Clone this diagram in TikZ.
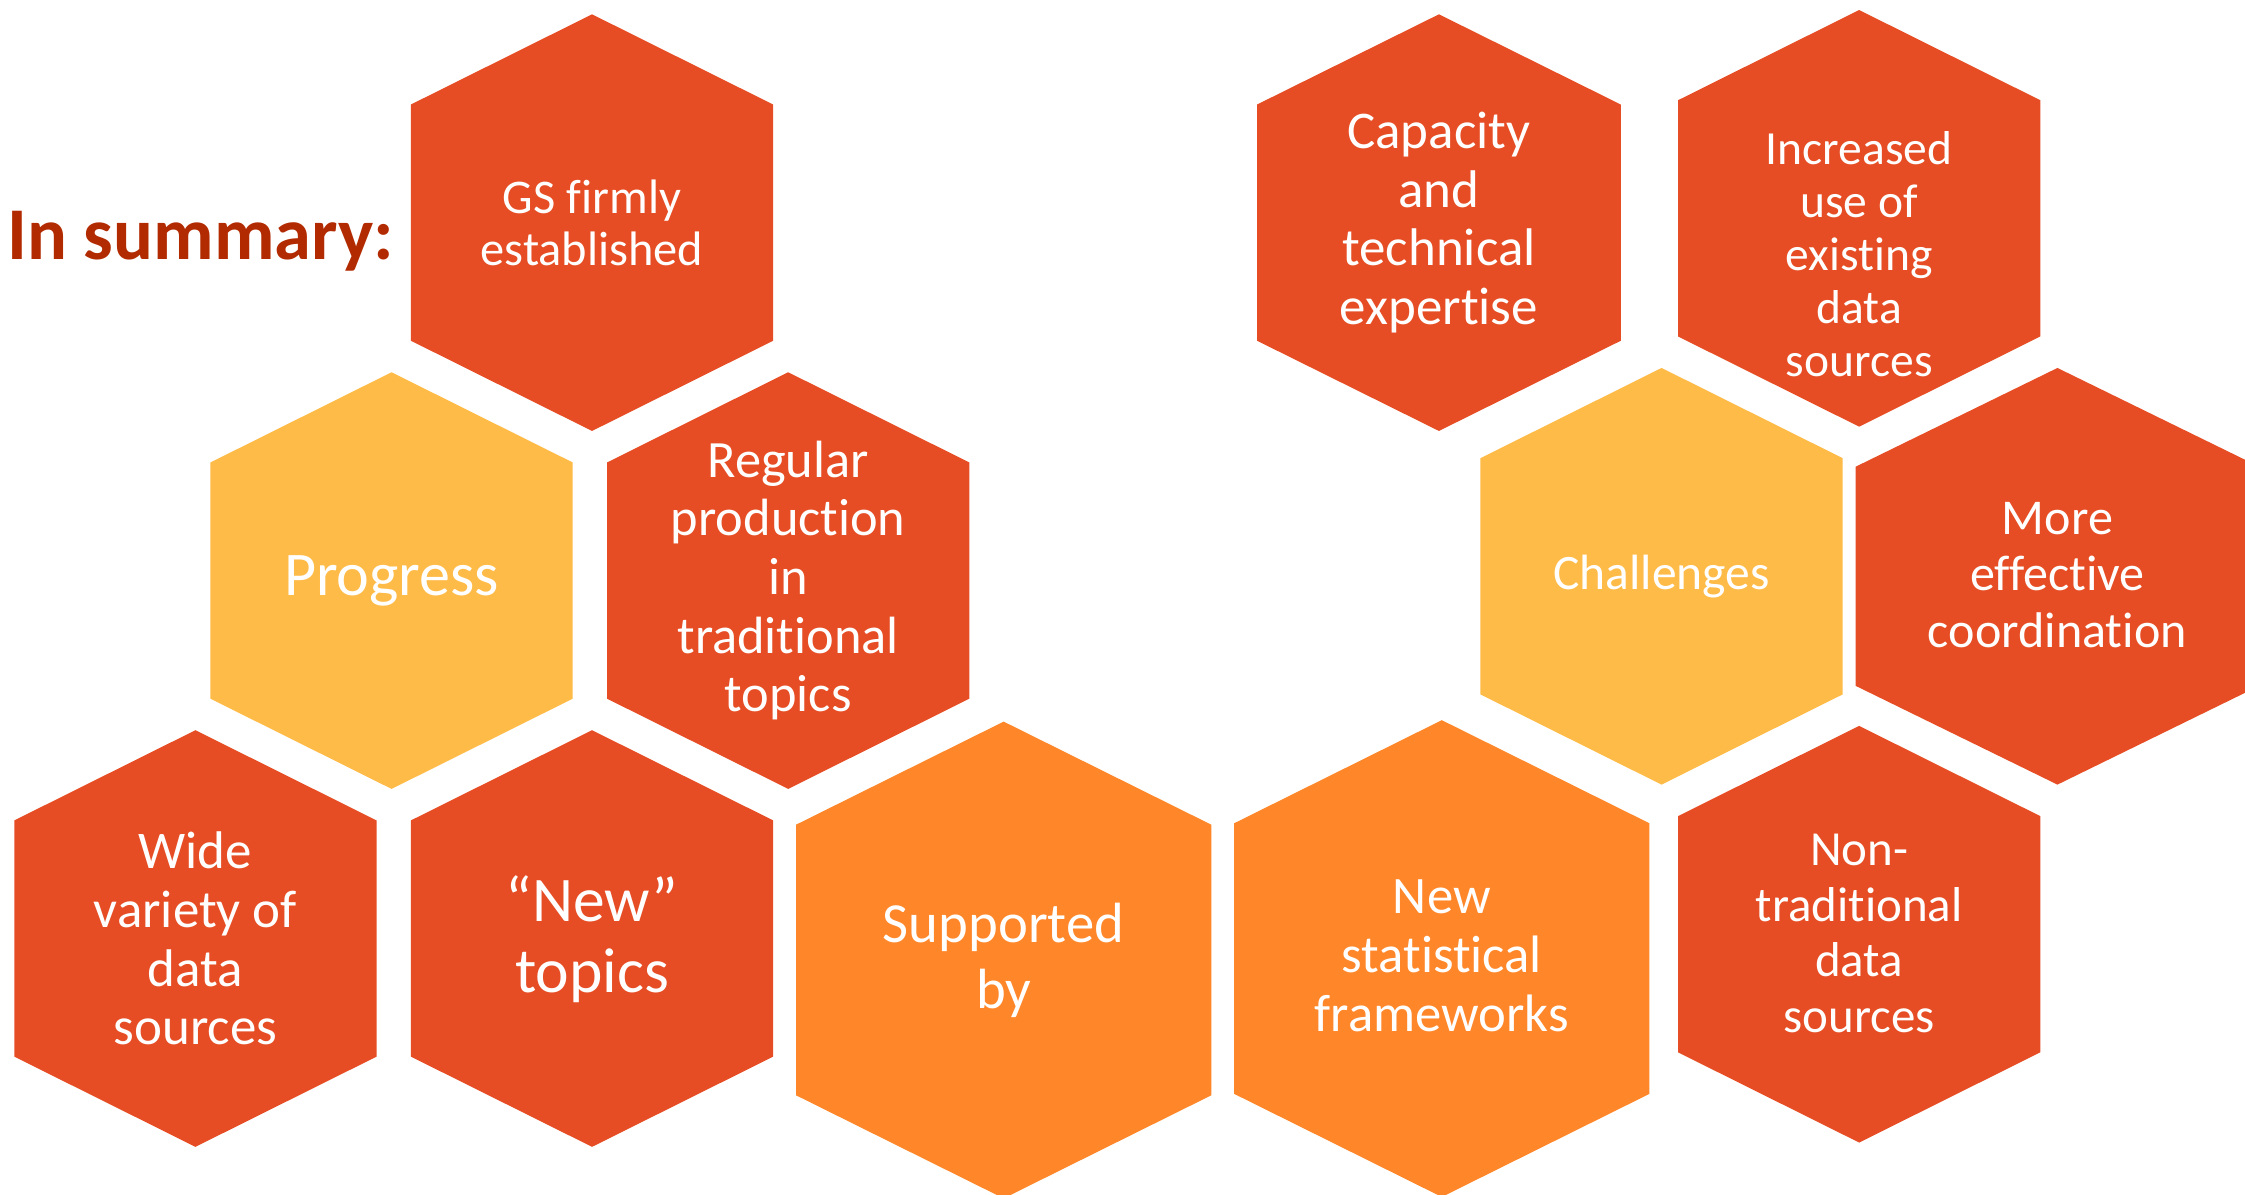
\documentclass[tikz,border=0pt]{standalone}
\usepackage{fontspec}
\setmainfont{Carlito}[Ligatures={NoCommon}]
\usepackage{tikz}
\definecolor{hexred}{HTML}{E64D24}
\definecolor{hexyellow}{HTML}{FFBB47}
\definecolor{hexorange}{HTML}{FF8629}
\definecolor{titlered}{HTML}{B22A00}
% colour, centre x, centre y, half width, half height, corner drop
\newcommand{\hexa}[6]{\fill[#1] (#2,#3-#5) -- (#2+#4,#3-#5+#6) -- (#2+#4,#3+#5-#6) -- (#2,#3+#5) -- (#2-#4,#3+#5-#6) -- (#2-#4,#3-#5+#6) -- cycle;}
\newcommand{\fsz}[2]{\fontsize{#1}{#2}\selectfont}

\begin{document}
\begin{tikzpicture}[x=0.5pt, y=-0.5pt, txt/.style={text=white, align=center, inner sep=0pt}]
\useasboundingbox (0,0) rectangle (1568,834);
\clip (0,0) rectangle (1568,834);

% progress side
\hexa{hexred}{413.5}{155.5}{126.5}{145.5}{63}
\hexa{hexyellow}{273.5}{405.5}{126.5}{145.5}{63}
\hexa{hexred}{550.5}{405.5}{126.5}{145.5}{63}
\hexa{hexred}{136.5}{655.5}{126.5}{145.5}{63}
\hexa{hexred}{413.5}{655.5}{126.5}{145.5}{63}
\hexa{hexorange}{701}{670.5}{145}{166.5}{72}
\hexa{hexorange}{1007}{669.5}{145}{166.5}{72}
% challenges side
\hexa{hexred}{1005}{155.5}{127}{145.5}{63}
\hexa{hexred}{1298.5}{152.5}{126.5}{145.5}{63}
\hexa{hexyellow}{1160.5}{402.5}{126.5}{145.5}{63}
\hexa{hexred}{1437}{402.5}{141}{145.5}{69}
\hexa{hexred}{1298.5}{652.5}{126.5}{145.5}{63}

\node[anchor=base west, text=titlered, font=\fsz{26}{30}\bfseries] (summary) at (-2,181) {In summary:};

\node[txt, font=\fsz{16.9}{18}] (gs) at (413.5,155.5) {GS firmly\\established};
\node[txt, font=\fsz{21.7}{26}] (progress) at (273.5,406) {Progress};
\node[txt, font=\fsz{18.3}{20.5}] (regular) at (550.5,405.5) {Regular\\production\\in\\traditional\\topics};
\node[txt, font=\fsz{18.5}{20.5}] (wide) at (136.5,655.5) {Wide\\variety of\\data\\sources};
\node[txt, font=\fsz{22.2}{25}] (newtopics) at (413.5,656) {“New”\\topics};
\node[txt, font=\fsz{19.8}{23}] (supported) at (701,671) {Supported\\by};
\node[txt, font=\fsz{18.4}{20.75}] (frameworks) at (1007,667.5) {New\\statistical\\frameworks};
\node[txt, font=\fsz{18.5}{20.5}] (capacity) at (1005,155.5) {Capacity\\and\\technical\\expertise};
\node[txt, font=\fsz{16.6}{18.5}] (existing) at (1298.5,177.5) {Increased\\use of\\existing\\data\\sources};
\node[txt, font=\fsz{17.3}{20}] (challenges) at (1160.5,403) {Challenges};
\node[txt, font=\fsz{17.5}{19.75}] (coordination) at (1437,401.5) {More\\effective\\coordination};
\node[txt, font=\fsz{17.1}{19.5}] (nontrad) at (1298.5,652) {Non-\\traditional\\data\\sources};
\end{tikzpicture}
\end{document}
